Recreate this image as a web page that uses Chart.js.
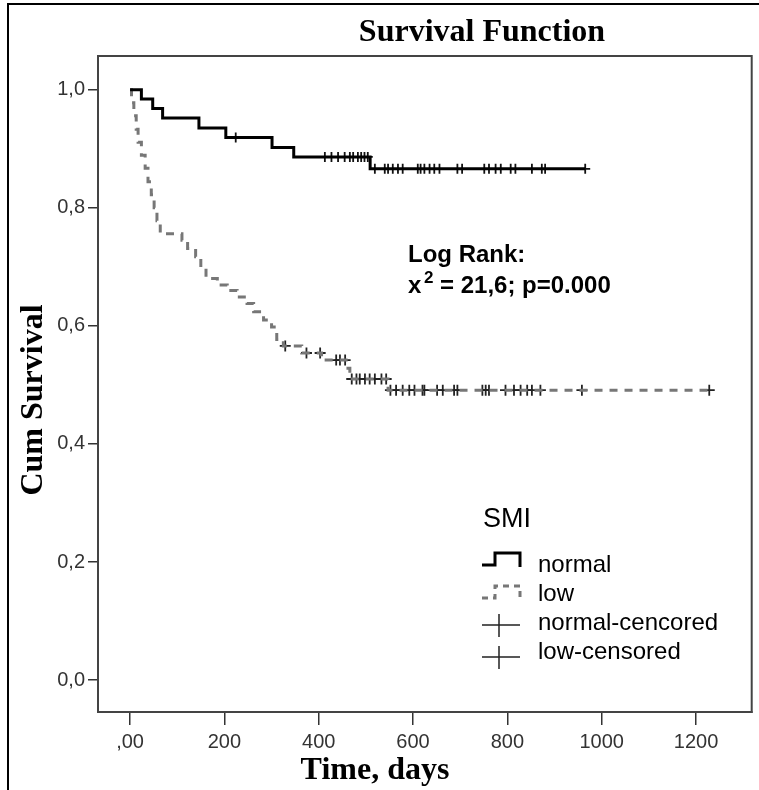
<!DOCTYPE html>
<html lang="en">
<head>
    <meta charset="UTF-8">
    <title>Survival Function</title>
    <script src="https://cdn.jsdelivr.net/npm/chart.js"></script>
    <style>
        body { margin: 0; background: #fff; }
        canvas { display: block; }
    </style>
</head>
<body>
<canvas id="survivalChart" width="759" height="790"></canvas>
<script>
    // Kaplan-Meier steps
    const normalTimes = [0, 24, 48, 69, 146, 203, 301, 347, 509];
    const normalSurv = [1.0, 0.984, 0.968, 0.952, 0.935, 0.919, 0.902, 0.886, 0.866];
    const normalEnd = 965;
    const normalCensored = [224, 413, 427, 441, 455, 466, 473, 483, 490, 497, 504, 519, 540, 547, 557, 568, 578,
        610, 616, 624, 635, 645, 656, 694, 704, 751, 761, 775, 786, 807, 817, 852, 873, 880, 965];

    const lowTimes = [0, 3, 8, 13, 17, 24, 32, 38, 45, 51, 57, 64, 110, 122, 139, 150, 161, 185, 206, 227, 248,
        262, 283, 300, 311, 325, 364, 406, 462, 466, 547];
    const lowSurv = [1.0, 0.978, 0.956, 0.933, 0.911, 0.889, 0.867, 0.844, 0.822, 0.800, 0.778, 0.756, 0.745,
        0.731, 0.717, 0.697, 0.680, 0.669, 0.660, 0.649, 0.638, 0.624, 0.610, 0.598, 0.577, 0.566, 0.554, 0.542,
        0.528, 0.510, 0.491];
    const lowEnd = 1228;
    const lowCensored = [329, 374, 403, 437, 445, 456, 470, 480, 487, 498, 508, 519, 533, 543, 552, 564, 578, 592,
        603, 620, 624, 651, 663, 687, 694, 747, 754, 761, 796, 814, 828, 842, 852, 870, 958, 1228];

    const xTicks = [0, 200, 400, 600, 800, 1000, 1200];
    const xTickLabels = [',00', '200', '400', '600', '800', '1000', '1200'];
    const yTicks = [0, 0.2, 0.4, 0.6, 0.8, 1.0];
    const yTickLabels = ['0,0', '0,2', '0,4', '0,6', '0,8', '1,0'];

    const legendTitle = 'SMI';
    const legendLabels = ['normal', 'low', 'normal-cencored', 'low-censored'];
    const statLines = ['Log Rank:', '= 21,6; p=0.000'];

    function stepPoints(times, surv, end) {
        const pts = times.map((t, i) => ({x: t, y: surv[i]}));
        pts.push({x: end, y: surv[surv.length - 1]});
        return pts;
    }
    function levelAt(times, surv, t) {
        let v = surv[0];
        for (let i = 0; i < times.length; i++) if (times[i] <= t) v = surv[i];
        return v;
    }
    // the tick labels in the picture are narrow; use the narrow face if it is there
    function hasFont(name) {
        const c = document.createElement('canvas').getContext('2d');
        c.font = '40px monospace';
        const w0 = c.measureText('1200abc').width;
        c.font = `40px '${name}', monospace`;
        return c.measureText('1200abc').width !== w0;
    }

    const SANS = "'Liberation Sans', Arial, sans-serif";
    const SERIF = "'Liberation Serif', 'Times New Roman', serif";
    const tickFont = hasFont('Liberation Sans Narrow')
        ? {family: "'Liberation Sans Narrow', sans-serif", size: 23}
        : {family: SANS, size: 20};

    const decor = {
        id: 'decor',
        beforeDraw(chart) {
            const c = chart.ctx;
            c.save();
            c.strokeStyle = '#000';
            c.lineWidth = 2;
            c.beginPath();
            c.moveTo(8, 790);
            c.lineTo(8, 4);
            c.lineTo(759, 4);
            c.stroke();
            c.restore();
        },
        afterDraw(chart) {
            const c = chart.ctx;
            const a = chart.chartArea;
            c.save();
            // plot frame
            c.strokeStyle = '#444';
            c.lineWidth = 2;
            c.strokeRect(a.left, a.top, a.right - a.left, a.bottom - a.top);

            // titles
            c.fillStyle = '#000';
            c.font = 'bold 32px ' + SERIF;
            c.textAlign = 'center';
            c.textBaseline = 'alphabetic';
            c.fillText('Survival Function', 482, 41);
            c.fillText('Time, days', 375, 779);
            c.save();
            c.translate(42, 400);
            c.rotate(-Math.PI / 2);
            c.fillText('Cum Survival', 0, 0);
            c.restore();

            // log rank text
            c.textAlign = 'left';
            c.font = 'bold 24px ' + SANS;
            c.fillText(statLines[0], 408, 262);
            c.fillText('x', 408, 293);
            c.font = 'bold 17px ' + SANS;
            c.fillText('2', 424, 283);
            c.font = 'bold 24px ' + SANS;
            c.fillText(statLines[1], 440, 293);

            // legend
            c.font = '27px ' + SANS;
            c.fillText(legendTitle, 483, 527);
            c.font = '24px ' + SANS;
            const base = [572, 601, 630, 659];
            legendLabels.forEach((txt, i) => c.fillText(txt, 538, base[i]));

            c.lineCap = 'butt';
            c.strokeStyle = '#000';
            c.lineWidth = 3;
            c.beginPath();
            c.moveTo(482, 565); c.lineTo(495, 565); c.lineTo(495, 553); c.lineTo(520, 553); c.lineTo(520, 567);
            c.stroke();
            c.strokeStyle = '#777';
            c.setLineDash([6, 5]);
            c.beginPath();
            c.moveTo(482, 598); c.lineTo(495, 598); c.lineTo(495, 586); c.lineTo(520, 586); c.lineTo(520, 598);
            c.stroke();
            c.setLineDash([]);
            c.strokeStyle = '#222';
            c.lineWidth = 1.5;
            [625, 657].forEach(y => {
                c.beginPath();
                c.moveTo(482, y); c.lineTo(520, y);
                c.moveTo(499, y - 11); c.lineTo(499, y + 12);
                c.stroke();
            });
            c.restore();
        }
    };

    const ctx = document.getElementById('survivalChart').getContext('2d');
    new Chart(ctx, {
        type: 'line',
        data: {
            datasets: [
                {
                    label: 'normal',
                    data: stepPoints(normalTimes, normalSurv, normalEnd),
                    stepped: true,
                    borderColor: '#000',
                    borderWidth: 3,
                    pointRadius: 0,
                    fill: false
                },
                {
                    label: 'low',
                    data: stepPoints(lowTimes, lowSurv, lowEnd),
                    stepped: true,
                    borderColor: '#777',
                    borderWidth: 3,
                    borderDash: [8, 7],
                    pointRadius: 0,
                    fill: false
                },
                {
                    label: 'normal-cencored',
                    data: normalCensored.map(t => ({x: t, y: levelAt(normalTimes, normalSurv, t)})),
                    showLine: false,
                    pointStyle: 'cross',
                    pointRadius: 5,
                    pointBorderWidth: 1.8,
                    borderColor: '#111'
                },
                {
                    label: 'low-censored',
                    data: lowCensored.map(t => ({x: t, y: levelAt(lowTimes, lowSurv, t)})),
                    showLine: false,
                    pointStyle: 'cross',
                    pointRadius: 5.5,
                    pointBorderWidth: 1.8,
                    borderColor: '#222'
                }
            ]
        },
        options: {
            responsive: false,
            animation: false,
            devicePixelRatio: 1,
            layout: {padding: {top: 56, right: 3, left: 0, bottom: 0}},
            plugins: {
                legend: {display: false},
                tooltip: {enabled: false}
            },
            scales: {
                x: {
                    type: 'linear',
                    min: -68,
                    max: 1318,
                    afterFit: s => { s.height = 78; },
                    afterBuildTicks: s => { s.ticks = xTicks.map(v => ({value: v})); },
                    ticks: {
                        callback: (v) => xTickLabels[xTicks.indexOf(v)],
                        color: '#333',
                        font: tickFont,
                        padding: 5,
                        maxRotation: 0
                    },
                    grid: {drawOnChartArea: false, tickLength: 13, color: '#333', lineWidth: 1.5},
                    border: {color: '#333', width: 2}
                },
                y: {
                    type: 'linear',
                    min: -0.054,
                    max: 1.057,
                    afterFit: s => { s.width = 98; },
                    afterBuildTicks: s => { s.ticks = yTicks.map(v => ({value: v})); },
                    ticks: {
                        callback: (v) => yTickLabels[yTicks.findIndex(t => Math.abs(t - v) < 1e-6)],
                        color: '#333',
                        font: tickFont,
                        padding: 3
                    },
                    grid: {drawOnChartArea: false, tickLength: 10, color: '#333', lineWidth: 1.5},
                    border: {color: '#333', width: 2}
                }
            }
        },
        plugins: [decor]
    });
</script>
</body>
</html>
